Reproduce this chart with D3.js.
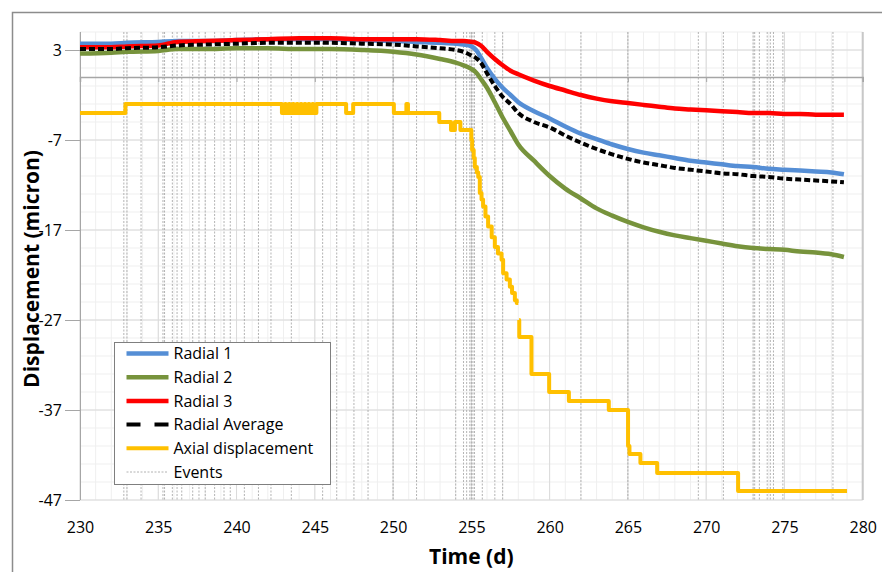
<!DOCTYPE html>
<html>
<head>
<meta charset="utf-8">
<title>Displacement</title>
<script src="https://d3js.org/d3.v7.min.js"></script>
<style>
body { margin: 0; background: #fff; }
text { font-family: "Open Sans", sans-serif; fill: #000; }
</style>
</head>
<body>
<div id="graphic"></div>
<script>

// radial gauges, sampled at the same days
var days    = [230, 232, 233, 235, 236.2, 238, 240, 242, 244, 246, 248, 250, 251.5, 253, 254, 254.5, 255, 255.3, 255.6, 256, 256.5, 257, 257.5, 258, 259, 260, 261, 262, 263, 264, 265, 266, 267, 268, 269, 270, 271, 272, 273, 274, 275, 276, 277, 278, 278.8];
var radial1 = [3.7, 3.7, 3.8, 3.9, 4.0, 4.0, 4.1, 4.2, 4.2, 4.2, 4.1, 4.0, 3.9, 3.8, 3.7, 3.6, 3.4, 3.0, 2.2, 1.0, -0.2, -1.2, -2.0, -2.8, -3.8, -4.6, -5.5, -6.3, -6.9, -7.5, -8.0, -8.4, -8.7, -9.0, -9.3, -9.5, -9.7, -9.9, -10.0, -10.2, -10.3, -10.4, -10.5, -10.6, -10.8];
var radial2 = [2.6, 2.7, 2.8, 2.9, 3.1, 3.1, 3.2, 3.2, 3.1, 3.1, 3.0, 2.8, 2.5, 2.0, 1.6, 1.3, 0.9, 0.5, -0.2, -1.2, -2.8, -4.5, -6.0, -7.5, -9.3, -11.0, -12.4, -13.5, -14.6, -15.4, -16.1, -16.7, -17.2, -17.6, -17.9, -18.2, -18.5, -18.8, -19.0, -19.1, -19.2, -19.4, -19.5, -19.7, -20.0];
var radial3 = [3.3, 3.3, 3.4, 3.5, 3.9, 4.0, 4.1, 4.2, 4.3, 4.3, 4.2, 4.2, 4.2, 4.1, 4.0, 4.0, 3.9, 3.8, 3.5, 2.8, 2.0, 1.3, 0.7, 0.3, -0.4, -1.0, -1.5, -2.0, -2.4, -2.7, -2.9, -3.1, -3.3, -3.5, -3.6, -3.7, -3.8, -3.9, -4.0, -4.0, -4.1, -4.1, -4.2, -4.2, -4.2];
var radialAvg = [3.1, 3.1, 3.2, 3.3, 3.5, 3.6, 3.7, 3.8, 3.8, 3.8, 3.7, 3.6, 3.4, 3.2, 3.0, 2.8, 2.4, 2.1, 1.6, 0.4, -1.0, -2.2, -3.0, -4.0, -5.0, -5.6, -6.5, -7.3, -8.0, -8.6, -9.1, -9.5, -9.8, -10.1, -10.3, -10.5, -10.7, -10.8, -11.0, -11.1, -11.3, -11.4, -11.5, -11.6, -11.7];

// axial gauge: value holds from each day until the next one (null = no reading)
var axialDays = [230, 232.9, 242.9, 243.1, 243.15, 243.35, 243.4, 243.6, 243.65, 243.85, 243.9, 244.1, 244.15, 244.35, 244.4, 244.6, 244.65, 244.85, 244.9, 245.1,
  247.0, 247.45, 250.05, 250.85, 250.95, 252.95, 253.7, 253.95, 254.3,
  255.0, 255.05, 255.15, 255.22, 255.35, 255.44, 255.54, 255.65, 255.75, 255.9, 256.07, 256.3, 256.5, 256.7, 256.93, 257.03, 257.25, 257.46, 257.6, 257.78, 257.9, 258.0, 258.02,
  258.05, 258.06, 258.84, 259.97, 261.23, 263.78, 265.01, 265.1, 265.8, 266.87, 272.04, 279.0];
var axialValues = [-4.0, -3.0, -4.0, -3.0, -4.0, -3.0, -4.0, -3.0, -4.0, -3.0, -4.0, -3.0, -4.0, -3.0, -4.0, -3.0, -4.0, -3.0, -4.0, -3.0,
  -4.0, -3.0, -4.0, -3.0, -4.0, -5.0, -5.9, -5.0, -5.9,
  -7.0, -8.1, -9.0, -10.0, -10.6, -11.1, -12.9, -13.6, -14.4, -15.5, -16.6, -17.8, -18.9, -19.6, -20.3, -21.8, -22.5, -23.3, -24.0, -24.8, -25.1, -25.1, null,
  -27.0, -28.9, -33.0, -35.0, -36.0, -37.0, -41.0, -41.9, -42.9, -44.0, -46.0, -46.0];

// event days (vertical markers)
var events = [232.8, 233.0, 233.9, 235.3, 235.4, 235.9, 236.2, 236.5, 237.2, 237.6, 238.0, 238.6, 239.2, 239.6, 240.5, 241.4, 242.2, 243.5, 245.5, 246.4, 247.5, 248.4, 250.0, 251.5,
  254.0, 254.5, 254.7, 254.9, 255.0, 255.1, 255.2, 255.7, 256.5, 257.0, 262.0, 265.0, 269.5, 271.1, 273.0, 273.1, 273.4, 273.9, 274.1, 274.3, 274.9, 278.1];

var xTicks = [230, 235, 240, 245, 250, 255, 260, 265, 270, 275, 280];
var yTicks = [3, -7, -17, -27, -37, -47];
var seriesNames = ["Radial 1", "Radial 2", "Radial 3", "Radial Average", "Axial displacement", "Events"];


var w = 882;
var h = 572;

var svg = d3.select("#graphic")
    .append("svg")
    .attr("width", w)
    .attr("height", h);

var x = d3.scaleLinear().domain([230, 280]).range([80, 862.7]);
var y = d3.scaleLinear().domain([-47, 5]).range([500, 32]);

// outer chart border
svg.append("rect")
    .attr("x", 12.5).attr("y", 12.5)
    .attr("width", w).attr("height", h)
    .attr("fill", "none")
    .attr("stroke", "#8c8c8c")
    .attr("stroke-width", 1.5);

var grid = svg.append("g");

// minor grid
grid.selectAll("line.vmin")
    .data(d3.range(230, 281, 1))
    .enter().append("line")
    .attr("x1", function(d) { return x(d); })
    .attr("x2", function(d) { return x(d); })
    .attr("y1", y(5)).attr("y2", y(-47))
    .attr("stroke", "#efefef");

grid.selectAll("line.hmin")
    .data(d3.range(-47, 6, 2))
    .enter().append("line")
    .attr("y1", function(d) { return y(d); })
    .attr("y2", function(d) { return y(d); })
    .attr("x1", x(230)).attr("x2", x(280))
    .attr("stroke", "#efefef");

// major grid
grid.selectAll("line.vmaj")
    .data(xTicks)
    .enter().append("line")
    .attr("x1", function(d) { return x(d); })
    .attr("x2", function(d) { return x(d); })
    .attr("y1", y(5)).attr("y2", y(-47))
    .attr("stroke", "#dadada");

grid.selectAll("line.hmaj")
    .data(yTicks)
    .enter().append("line")
    .attr("y1", function(d) { return y(d); })
    .attr("y2", function(d) { return y(d); })
    .attr("x1", x(230)).attr("x2", x(280))
    .attr("stroke", "#dadada");

// right edge of plot
svg.append("line")
    .attr("x1", x(280)).attr("x2", x(280))
    .attr("y1", y(5)).attr("y2", y(-47))
    .attr("stroke", "#c8c8c8")
    .attr("stroke-width", 2);

// events
svg.append("g")
    .selectAll("line")
    .data(events)
    .enter().append("line")
    .attr("x1", function(d) { return x(d); })
    .attr("x2", function(d) { return x(d); })
    .attr("y1", y(5)).attr("y2", y(-47))
    .attr("stroke", "#a0a0a0")
    .attr("stroke-width", 0.8)
    .attr("stroke-dasharray", "2,1.5");

// zero line with ticks
var zeroAxis = svg.append("g")
    .attr("transform", "translate(0," + y(0) + ")")
    .call(d3.axisBottom(x).tickValues(xTicks).tickSize(5).tickFormat(""));
zeroAxis.select(".domain").attr("stroke", "#a6a6a6").attr("stroke-width", 1.5);
zeroAxis.selectAll(".tick line").attr("stroke", "#a6a6a6");

// x labels at the bottom
var xAxis = svg.append("g")
    .attr("transform", "translate(0," + y(-47) + ")")
    .call(d3.axisBottom(x).tickValues(xTicks).tickSize(0).tickPadding(22));
xAxis.select(".domain").remove();
xAxis.selectAll("text").style("font-size", "16px").style("font-family", "'Open Sans', sans-serif");

// y axis
var yAxis = svg.append("g")
    .attr("transform", "translate(" + x(230) + ",0)")
    .call(d3.axisLeft(y).tickValues(yTicks).tickSize(15).tickPadding(3)
        .tickFormat(function(d) { return String(d); }));
yAxis.select(".domain").attr("stroke", "#a6a6a6").attr("d", "M0.5," + y(5) + "V" + y(-47));
yAxis.selectAll(".tick line").attr("stroke", "#a6a6a6");
yAxis.selectAll("text").style("font-size", "16px").style("font-family", "'Open Sans', sans-serif");

// series
var series = [
    { name: seriesNames[0], values: radial1, color: "#558ed5" },
    { name: seriesNames[1], values: radial2, color: "#77933c" },
    { name: seriesNames[2], values: radial3, color: "#ff0000" },
    { name: seriesNames[3], values: radialAvg, color: "#000000", dash: "6,3" }
];

var line = d3.line()
    .x(function(d) { return x(d.t); })
    .y(function(d) { return y(d.v); })
    .curve(d3.curveMonotoneX);

series.forEach(function(s) {
    var pts = days.map(function(t, i) { return { t: t, v: s.values[i] }; });
    svg.append("path")
        .datum(pts)
        .attr("d", line)
        .attr("fill", "none")
        .attr("stroke", s.color)
        .attr("stroke-width", s.dash ? 4 : 4.5)
        .attr("stroke-dasharray", s.dash || null);
});

var axialPts = axialDays.map(function(t, i) { return { t: t, v: axialValues[i] }; });
svg.append("path")
    .datum(axialPts)
    .attr("d", d3.line()
        .defined(function(d) { return d.v !== null; })
        .x(function(d) { return x(d.t); })
        .y(function(d) { return y(d.v); })
        .curve(d3.curveStepAfter))
    .attr("fill", "none")
    .attr("stroke", "#ffc000")
    .attr("stroke-width", 4)
    .attr("stroke-linejoin", "round");

// axis titles
svg.append("text")
    .attr("x", x(255))
    .attr("y", 564)
    .attr("text-anchor", "middle")
    .style("font-size", "21px")
    .style("font-weight", "bold")
    .text("Time (d)");

svg.append("text")
    .attr("transform", "translate(39,269) rotate(-90)")
    .attr("text-anchor", "middle")
    .style("font-size", "21px")
    .style("font-weight", "bold")
    .text("Displacement (micron)");

// legend
var legend = svg.append("g").attr("transform", "translate(114.5,342.5)");
legend.append("rect")
    .attr("width", 216).attr("height", 142)
    .attr("fill", "#fff")
    .attr("stroke", "#7f7f7f");

var legendStyles = [
    { color: "#558ed5", width: 4.5 },
    { color: "#77933c", width: 4.5 },
    { color: "#ff0000", width: 4.5 },
    { color: "#000000", width: 4, dash: "14,14" },
    { color: "#ffc000", width: 4 },
    { color: "#a0a0a0", width: 0.8, dash: "2,1.5" }
];

var rows = legend.selectAll("g.row")
    .data(seriesNames)
    .enter().append("g")
    .attr("transform", function(d, i) { return "translate(0," + (11 + i * 23.7) + ")"; });

rows.append("line")
    .attr("x1", 12).attr("x2", 54)
    .attr("stroke", function(d, i) { return legendStyles[i].color; })
    .attr("stroke-width", function(d, i) { return legendStyles[i].width; })
    .attr("stroke-dasharray", function(d, i) { return legendStyles[i].dash || null; });

rows.append("text")
    .attr("x", 59)
    .attr("dy", "0.35em")
    .style("font-size", "16px")
    .text(function(d) { return d; });

</script>
</body>
</html>
